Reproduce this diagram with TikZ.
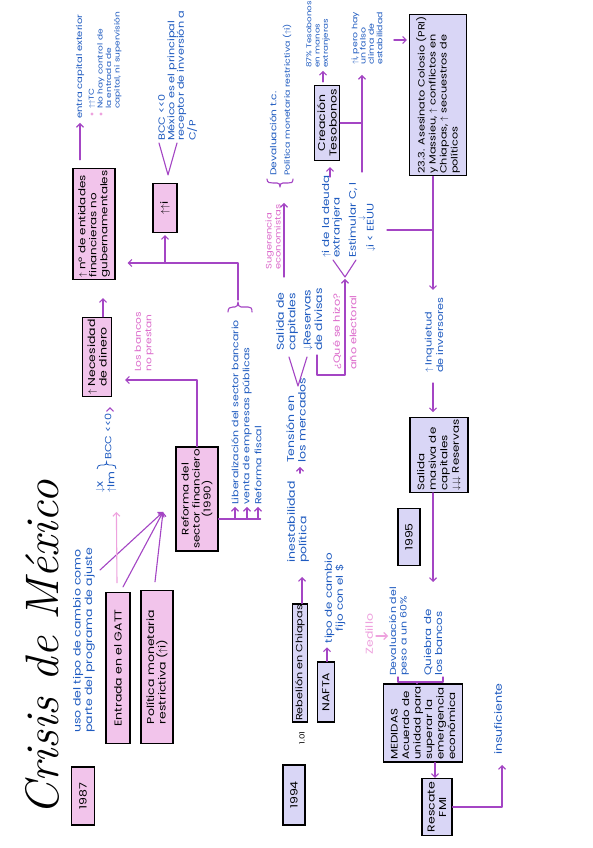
\documentclass[tikz,border=0pt]{standalone}
\usepackage{fontspec}
\newfontfamily\hand[FakeStretch=1.25]{Poppins}
\usetikzlibrary{arrows.meta,calc}
\definecolor{blueink}{HTML}{1F5BC0}
\definecolor{pinkink}{HTML}{DC6ACB}
\definecolor{pinklight}{HTML}{EEA2DE}
\definecolor{lineink}{HTML}{A445C4}
\definecolor{pinkfill}{HTML}{F2C4EB}
\definecolor{lavfill}{HTML}{D9D6F6}
\newcommand\fsz[2]{\fontsize{#1}{#2}\selectfont}
\tikzset{
 bx/.style={draw=black, line width=1.2pt, inner sep=2pt, align=center, text=black, font=\hand\fsz{10}{11.5}},
 pk/.style={bx, fill=pinkfill},
 lv/.style={bx, fill=lavfill},
 bt/.style={text=blueink, align=left, inner sep=0pt, font=\hand\fsz{10}{11.5}},
 sm9/.style={font=\hand\fsz{9}{9.5}},
 sm8/.style={font=\hand\fsz{7.5}{8.3}},
 ptx/.style={bt, text=pinkink},
 ln/.style={draw=lineink, line width=1.1pt, line cap=round, line join=round},
 ar/.style={ln, -{Straight Barb[length=3.5pt,width=7pt]}}
}
\begin{document}
\begin{tikzpicture}[x=1pt,y=-1pt,rotate=90,transform shape]
\fill[white] (0,0) rectangle (848,592);
\useasboundingbox (0,0) rectangle (848,592);

% title
\node[font=\itshape\fsz{47}{50}] (title) at (200,42) {Crisis de México};

% ---------- 1987 ----------
\node[pk, minimum width=58pt, minimum height=23pt] (y87) at (52,83) {1987};
\node[bt, anchor=west] (uso) at (115,84) {uso del tipo de cambio como\\parte del programa de ajuste};
\node[pk, minimum width=151pt, minimum height=24pt] (gatt) at (180,118) {Entrada en el GATT};
\node[pk, minimum width=153pt, minimum height=32pt, align=left] (pol) at (181,157) {Política monetaria\\restrictiva ($\uparrow$i)};
\node[pk, minimum width=92pt, minimum height=42pt, font=\hand\fsz{9.5}{11}] (ref) at (349,197) {Reforma del\\sector financiero\\(1990)};

\coordinate (cv) at (336,163);
\coordinate (usoend) at (278,100);
\draw[ar] (usoend) -- (cv);
\draw[ar] ($(gatt.east)+(5,5)$) -- (cv);
\draw[ar] ($(pol.east)+(8,-2)$) -- (cv);

\node[bt, anchor=west] (xim) at (355,106) {$\downarrow$x\\$\uparrow$Im};
\draw[ar, draw=pinklight] ($(gatt.east)+(9,-1)$) -- ($(xim.south west)+(-19,0)$);
\draw[blueink, line width=0.8pt] (379,97) .. controls (382,97) and (383,99) .. (383,101) -- (383,104) .. controls (383,106) and (384,106.5) .. (386,106.5) .. controls (384,106.5) and (383,107) .. (383,109) -- (383,112) .. controls (383,115) and (382,116) .. (379,116);
\node[bt, sm9, anchor=west] (bcc1) at (388,108) {BCC <<0};
\node[pk, minimum width=73pt, minimum height=29pt] (nec) at (491,97) {$\uparrow$ Necesidad\\de dinero};
\draw[ar] ($(bcc1.east)+(4,2)$) -- ($(nec.west)+(-10,13)$);
\node[ptx, anchor=west, font=\hand\fsz{8.5}{10.5}] (banc) at (476,144) {Los bancos\\no prestan};
\draw[ar] (ref.east) -| ($(nec.south)+(-23,13)$);

\node[bt, anchor=west, font=\hand\fsz{8.8}{11.5}] (li1) at (343,235) {Liberalización del sector bancario};
\node[bt, anchor=west, font=\hand\fsz{8.8}{11.5}] (li2) at (343,247) {venta de empresas públicas};
\node[bt, anchor=west, font=\hand\fsz{8.8}{11.5}] (li3) at (343,258) {Reforma fiscal};
\coordinate (lb) at ($(ref.south)+(-20,0)$);
\draw[ln] (lb) -- ($(lb)+(0,42)$);
\draw[ar] (lb |- li1.west) -- ($(li1.west)+(-2,0)$);
\draw[ar] (lb |- li2.west) -- ($(li2.west)+(-2,0)$);
\draw[ar] (lb |- li3.west) -- ($(li3.west)+(-2,0)$);

\node[pk, minimum width=106pt, minimum height=42pt, align=left, font=\hand\fsz{9.5}{11}] (nro) at (624,94) {$\uparrow$ nº de entidades\\financieras no\\gubernamentales};
\node[pk, minimum width=49pt, minimum height=24pt] (ii) at (640,165) {$\uparrow\uparrow$i};
\draw[ar] ($(nec.east)+(0,6)$) -- ($(nro.west)+(-18,9)$);

% brace of the list
\draw[ln] (536,228) .. controls (540,228) and (541,230) .. (541,233) -- (541,235) .. controls (541,237) and (543,238) .. (546,238) .. controls (543,238) and (541,239) .. (541,241) -- (541,248) .. controls (541,251) and (540,252) .. (536,252);
\coordinate (brt) at (548,238);
\coordinate (vj) at (585,238);
\draw[ar] (brt) -- (vj) -- ($(vj |- nro.south)+(0,12)$);
\draw[ar] (vj |- ii.west) -- ($(ii.west)+(-2,0)$);

\node[bt, anchor=west, font=\hand\fsz{8}{9}] (ent) at (729,80) {entra capital exterior};
\draw[ar] ($(nro.east)+(8,-14)$) -- ($(ent.west)+(-4,0)$);
\fill[pinklight] (734,92) circle (1.6);
\fill[pinklight] (734,101) circle (1.6);
\node[bt, anchor=west, font=\hand\fsz{7.2}{8.5}] (tc) at (739,92) {$\uparrow\uparrow$TC};
\node[bt, anchor=north west, font=\hand\fsz{7.2}{8.5}] (nohay) at (739,97) {No hay control de\\la entrada de\\capital, ni supervisión};

\coordinate (v0) at ($(ii.east)+(8,3)$);
\draw[ln] (705,159) -- (v0) -- (705,177);
\node[bt, sm9, anchor=north west] (bcc2) at (707,158) {BCC <<0\\México es el principal\\receptor de inversión a\\C/P};

% ---------- 1994 ----------
\node[lv, minimum width=60pt, minimum height=22pt] (y94) at (53,294) {1994};
\node[font=\hand\fsz{7}{8}] (d101) at (110,302) {1.01};
\node[lv, minimum width=115pt, minimum height=15pt, inner sep=1pt, font=\hand\fsz{9}{10}] (reb) at (185,300) {Rebelión en Chiapas};
\node[bt, anchor=west] (inest) at (285,298) {inestabilidad\\política};
\draw[ar] ($(reb.east)+(0,2)$) -- ($(inest.west)+(-14,4)$);
\node[lv, minimum width=60pt, minimum height=17pt, inner sep=1pt] (nafta) at (156,326) {NAFTA};
\node[bt, align=center, font=\hand\fsz{9.5}{11}] (tipo) at (250,335) {tipo de cambio\\fijo con el \$};
\draw[ar] ($(nafta.east)+(0,1)$) -- ++(14,0);

\node[bt, anchor=west] (ten) at (385,296) {Tensión en\\los mercados};
\draw[ar] ($(inest.east)+(8,2)$) -- ($(ten.west)+(-4,4)$);
\coordinate (v1) at (462,298);
\draw[ln] (491,289) -- (v1) -- (491,307);
\node[bt, anchor=west] (sal) at (497,287) {Salida de\\capitales};
\node[bt, anchor=west] (resv) at (497,313) {$\downarrow$Reservas\\de divisas};
\node[ptx, anchor=west, font=\hand\fsz{9}{10}] (que) at (478,337) {¿Qué se hizo?};
\node[ptx, anchor=west, font=\hand\fsz{9}{10}] (elec) at (478,353) {año electoral};
\coordinate (v2) at (571,345);
\draw[ar] (493,317) -- (473,317) -- (473,345) -- ($(v2)+(-2,0)$);
\draw[ln] (588,333) -- (v2) -- (588,356);
\node[bt, anchor=west, font=\hand\fsz{9.5}{10.5}] (deuda) at (590,332) {$\uparrow$i de la deuda\\extranjera};
\node[bt, anchor=west, font=\hand\fsz{9.5}{10.5}] (estim) at (590,353) {Estimular C, I};
\node[bt, font=\fsz{8}{9}] (dn) at (630,362) {$\downarrow$};
\node[bt, anchor=west, font=\hand\fsz{9.5}{10.5}] (eeuu) at (596,371) {$\downarrow$i < EEUU};
\node[ptx, anchor=west, font=\hand\fsz{8}{9}] (sug) at (578,273) {Sugerencia\\economistas};
\draw[ar] (571,284) -- (645,284);
\draw[ln] (669,267) .. controls (665,267) and (665,270) .. (665,273) -- (665,277) .. controls (665,279) and (664,280) .. (661,280) .. controls (664,280) and (665,281) .. (665,283) -- (665,288) .. controls (665,291) and (665,293) .. (669,293);
\node[bt, anchor=west, font=\hand\fsz{8.5}{9.5}] (dev1) at (672,273) {Devaluación t.c.};
\node[bt, anchor=west, font=\hand\fsz{7.5}{9}] (dev2) at (672,287) {Política monetaria restrictiva ($\uparrow$i)};

\node[lv, minimum width=75pt, minimum height=25pt] (cre) at (725,327) {Creación\\Tesobonos};
\coordinate (deudaend) at (671,330);
\draw[ar] (deudaend) -- ($(cre.west)+(-6,3)$);
\draw[ar] ($(cre.east)+(3,-4)$) -- ++(11,0);
\node[bt, anchor=west, font=\hand\fsz{7}{8.3}] (tes) at (780,318) {87\% Tesobonos\\en manos\\extranjeras};
\draw[ln] (cre.south) -- (cre.south |- 0,362);
\draw[ar] (676,362) -- (773,362);
\node[bt, sm8, anchor=west] (pero) at (783,367) {$\uparrow$i, pero hay\\un falso\\clima de\\estabilidad};

\node[lv, minimum width=160pt, minimum height=57pt, align=left, font=\hand\fsz{9}{11}] (ase) at (753,438) {23.3. Asesinato Colosio (PRI)\\y Massieu, $\uparrow$ conflictos en\\Chiapas, $\uparrow$ secuestros de\\políticos};
\draw[ar] ($(ase.north)+(55,-15)$) -- ($(ase.north)+(55,-2)$);
\draw[ar] (ase.west |- 0,433) -- (558,433);
\draw[ln] (618,387) -- (618,433);
\node[bt, anchor=west, font=\hand\fsz{9}{11.5}] (inq) at (475,434) {$\uparrow$ Inquietud\\de inversores};
\node[lv, minimum width=74pt, minimum height=58pt, align=left, font=\hand\fsz{9.5}{11.5}] (sm) at (393,439) {Salida\\masiva de\\capitales\\$\downarrow\downarrow\downarrow$ Reservas};
\draw[ar] ($(inq.west)+(-10,-1)$) -- ($(sm.east)+(5,-6)$);
\draw[ar] (sm.west |- 0,433) -- (266,433);
\node[lv, minimum width=57pt, minimum height=22pt] (y95) at (311,409) {1995};

\node[lv, minimum width=67pt, minimum height=79pt, align=left, font=\hand\fsz{9.5}{11.5}] (med) at (125,423) {MEDIDAS\\Acuerdo de\\unidad para\\superar la\\emergencia\\económica};
\draw[ln] (171,398) -- (166,398) -- (166,443) -- (171,443);
\draw[ln] (166,417) -- (med.east |- 0,417);
\node[bt, anchor=west, font=\hand\fsz{8.8}{10.5}] (dv) at (172,399) {Devaluación del\\peso a un 60\%};
\node[bt, anchor=west, font=\hand\fsz{9.5}{11}] (qb) at (172,433) {Quiebra de\\los bancos};
\node[ptx, text=pinklight] (zed) at (214,369) {Zedillo};
\draw[ar, draw=pinklight] (212,376) -- (212,388);
\node[lv, minimum width=57pt, minimum height=30pt] (res) at (41,437) {Rescate\\FMI};
\draw[ar] ($(med.west)+(0,12)$) -- ($(res.east)+(0,-2)$);
\draw[ar] (res.south) -- (res.south |- 0,502) -- (83,502);
\node[bt, anchor=west] (ins) at (93,498) {insuficiente};
\end{tikzpicture}
\end{document}
